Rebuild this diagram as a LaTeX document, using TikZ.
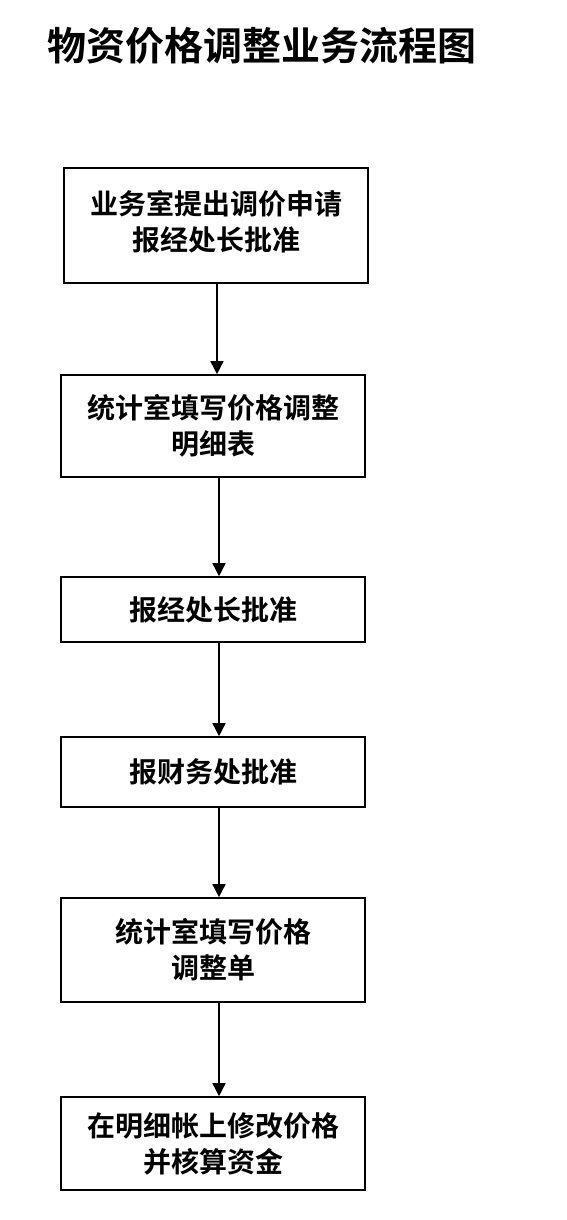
\documentclass[tikz,border=0pt]{standalone}
\usepackage{fontspec}
\setmainfont{Noto Sans CJK SC}[BoldFont={Noto Sans CJK SC Bold}]
\newfontfamily\cjkbold{Noto Sans CJK SC Bold}
\usetikzlibrary{arrows.meta}
\begin{document}
\begin{tikzpicture}[x=1pt,y=-1pt,
  stepbox/.style={draw=black, line width=1.6pt, minimum width=304pt, inner sep=0pt,
    align=center, font=\cjkbold\fontsize{28pt}{36pt}\selectfont},
  flow/.style={draw=black, line width=1.5pt, -{Triangle[length=13pt,width=13pt]}}]
\useasboundingbox (0,0) rectangle (566,1220);
\fill[white] (0,0) rectangle (566,1220);
\node[font=\cjkbold\fontsize{39pt}{44pt}\selectfont] (title) at (262,46) {物资价格调整业务流程图};
\node[stepbox, minimum height=115pt] (b1) at (216,225.5) {\raisebox{5pt}{\begin{tabular}{@{}c@{}}业务室提出调价申请\\报经处长批准\end{tabular}}};
\node[stepbox, minimum height=102pt] (b2) at (213,426) {统计室填写价格调整\\明细表};
\node[stepbox, minimum height=65pt] (b3) at (213,609.5) {报经处长批准};
\node[stepbox, minimum height=70pt] (b4) at (213,772) {报财务处批准};
\node[stepbox, minimum height=104pt] (b5) at (213,950) {统计室填写价格\\调整单};
\node[stepbox, minimum height=93pt] (b6) at (213,1143.5) {在明细帐上修改价格\\并核算资金};
\draw[flow] ([xshift=1pt]b1.south) -- ([xshift=4pt]b2.north);
\draw[flow] ([xshift=6pt]b2.south) -- ([xshift=6pt]b3.north);
\draw[flow] ([xshift=6pt]b3.south) -- ([xshift=6pt]b4.north);
\draw[flow] ([xshift=6pt]b4.south) -- ([xshift=6pt]b5.north);
\draw[flow] ([xshift=6pt]b5.south) -- ([xshift=6pt]b6.north);
\end{tikzpicture}
\end{document}
